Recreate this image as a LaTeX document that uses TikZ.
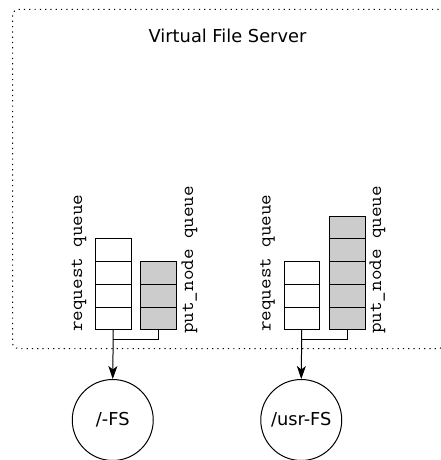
\documentclass[tikz,border=0pt]{standalone}
\usepackage{fontspec}
\setmainfont{DejaVu Sans}
\newfontfamily\qmono[FakeStretch=1.08]{Latin Modern Mono}
\usetikzlibrary{arrows.meta,calc}

\tikzset{
  frame/.style={draw, line width=1pt, dash pattern=on 1.2pt off 4.1pt,
    rounded corners=6pt, minimum width=432pt, minimum height=339pt,
    inner sep=0pt},
  title/.style={font=\fontsize{17.8}{20}\selectfont, inner sep=0pt},
  qbox/.style={draw, line width=1pt, minimum width=35.5pt, inner sep=0pt,
    fill=white},
  pbox/.style={qbox, fill=black!20},
  qlabel/.style={font=\qmono\fontsize{19}{21}\selectfont, rotate=90,
    anchor=base west, inner sep=0pt},
  fs/.style={draw, circle, line width=1pt, minimum size=81pt, inner sep=0pt,
    font=\fontsize{17.8}{20}\selectfont},
  link/.style={line width=1pt},
  feed/.style={line width=1pt, -{Stealth[length=13pt, width=9pt, inset=3.5pt]}},
}

% draw the separators of a queue with #2 cells
\newcommand{\cellsep}[2]{%
  \foreach \k in {1,...,\numexpr#2-1\relax}
    \draw[line width=1pt] ($(#1.south west)!\k/#2!(#1.north west)$)
      -- ($(#1.south east)!\k/#2!(#1.north east)$);}

\begin{document}
\begin{tikzpicture}[x=1pt, y=-1pt]
  \useasboundingbox (0,0) rectangle (440,460);

  % server frame and title
  \node[frame, anchor=north west] (vfs) at (12,9) {};
  \node[title, anchor=base] (vfstitle) at (227.5,43) {Virtual File Server};

  % queues of the / file system
  \node[qbox, minimum height=91pt, anchor=south west] (rq1) at (95,330) {};
  \cellsep{rq1}{4}
  \node[pbox, minimum height=68pt, anchor=south west] (pq1) at (140.2,330) {};
  \cellsep{pq1}{3}
  \node[qlabel] (rl1) at (82,332) {request queue};
  \node[qlabel] (pl1) at (193,334) {put\_node queue};

  % queues of the /usr file system
  \node[qbox, minimum height=68pt, anchor=south west] (rq2) at (283.5,330) {};
  \cellsep{rq2}{3}
  \node[pbox, minimum height=113.5pt, anchor=south west] (pq2) at (329,330) {};
  \cellsep{pq2}{5}
  \node[qlabel] (rl2) at (270.5,332) {request queue};
  \node[qlabel] (pl2) at (381,334) {put\_node queue};

  % file systems
  \node[fs] (fs1) at (112.75,420) {/-FS};
  \node[fs] (fs2) at (301.25,420) {/usr-FS};

  % merge points and feeds
  \coordinate (j1) at ($(rq1.south)+(0,9)$);
  \coordinate (j2) at ($(rq2.south)+(0,9)$);
  \draw[link] (pq1.south) |- (j1);
  \draw[link] (pq2.south) |- (j2);
  \draw[feed] (rq1.south) -- (fs1.north);
  \draw[feed] (rq2.south) -- (fs2.north);
\end{tikzpicture}
\end{document}
